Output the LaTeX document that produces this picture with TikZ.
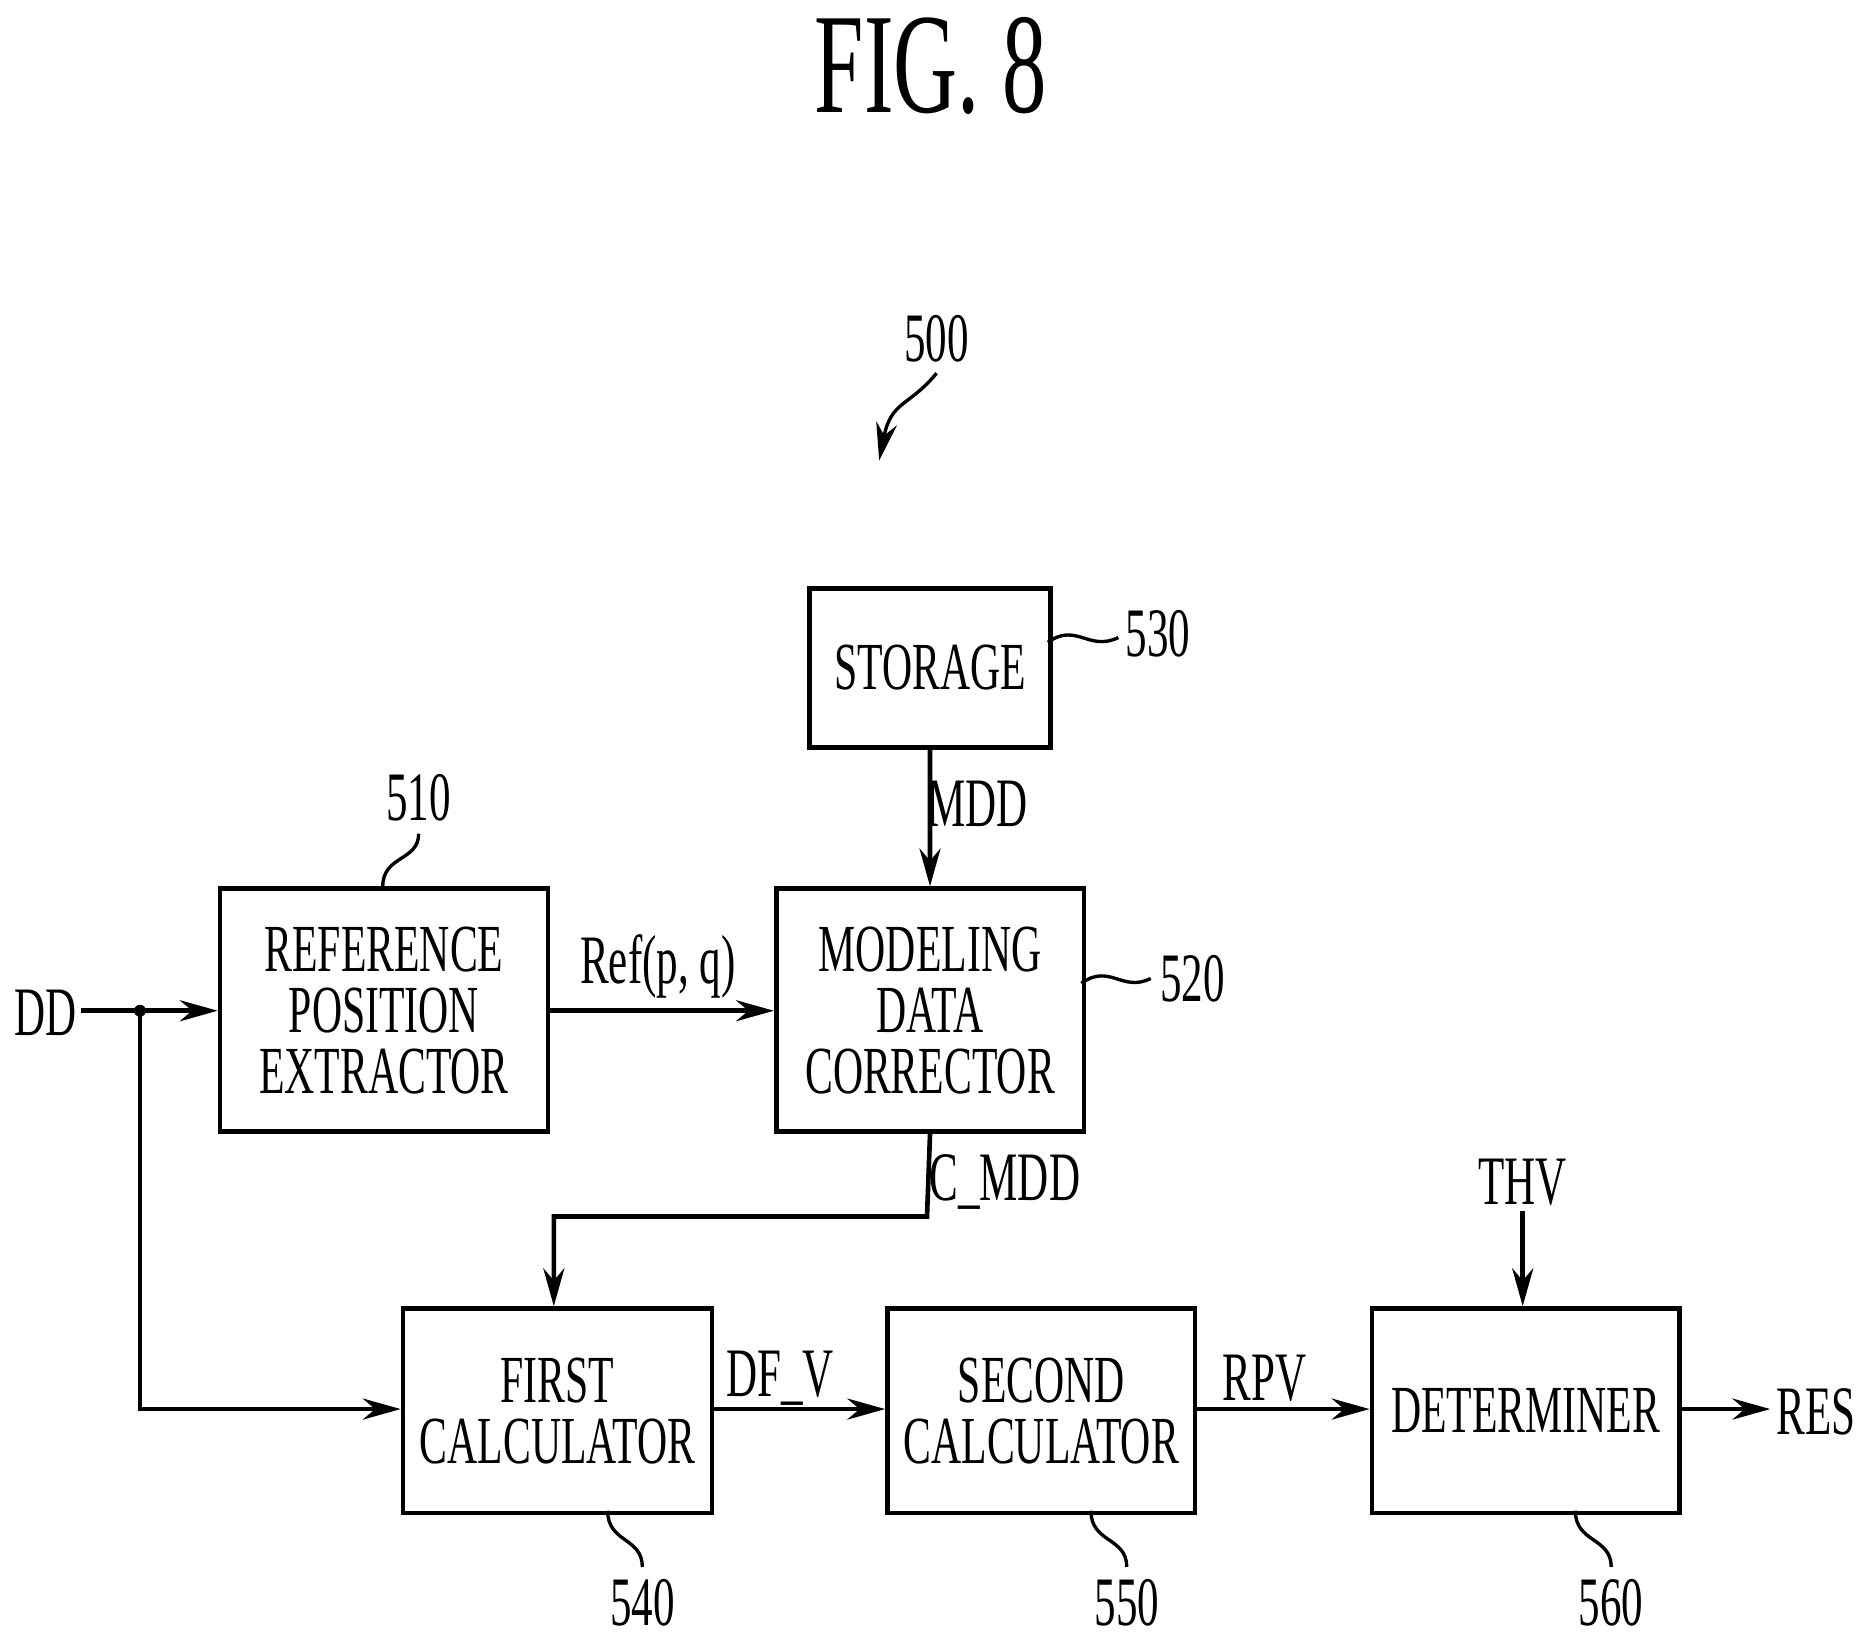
\documentclass[tikz,border=0pt]{standalone}
\usepackage{fontspec}
\setmainfont{Liberation Serif}[FakeStretch=0.62]
\usetikzlibrary{arrows.meta}
\begin{document}
\begin{tikzpicture}[x=0.01cm,y=-0.01cm,
  bt/.style={font=\fontsize{16}{14.5}\selectfont,align=center,inner sep=0pt},
  bx/.style={draw,line width=1.1pt,anchor=north west,inner sep=0pt},
  lbl/.style={font=\fontsize{16.5}{18}\selectfont,inner sep=1pt},
  num/.style={font=\fontsize{16.5}{18}\selectfont,inner sep=1pt},
  arr/.style={line width=1.1pt,-{Stealth[length=9pt,width=5pt]}},
  ln/.style={line width=1.1pt},
  sq/.style={line width=0.8pt}]
\useasboundingbox (0,0) rectangle (1560,1370);
\node[font=\fontsize{34}{38}\selectfont] (title) at (778,55) {FIG. 8};
% boxes
\node[bx,minimum width=2.01cm,minimum height=1.33cm] (st) at (675,490) {};
\node[bt] (stt) at (st.center) {STORAGE};
\node[bx,minimum width=2.74cm,minimum height=2.03cm] (ref) at (182,741) {};
\node[bt] (reft) at (ref.center) {REFERENCE\\POSITION\\EXTRACTOR};
\node[bx,minimum width=2.57cm,minimum height=2.03cm] (mod) at (647,741) {};
\node[bt] (modt) at (mod.center) {MODELING\\DATA\\CORRECTOR};
\node[bx,minimum width=2.58cm,minimum height=1.71cm] (fc) at (335,1092) {};
\node[bt] (fct) at (fc.center) {FIRST\\CALCULATOR};
\node[bx,minimum width=2.57cm,minimum height=1.71cm] (sc) at (740,1092) {};
\node[bt] (sct) at (sc.center) {SECOND\\CALCULATOR};
\node[bx,minimum width=2.57cm,minimum height=1.71cm] (det) at (1145,1092) {};
\node[bt] (dett) at (det.center) {DETERMINER};
% signals
\node[lbl] (dd) at (38,847) {DD};
\coordinate (dot) at (117,845);
\fill (dot) circle (5);
\draw[ln] (68,845) -- (dot);
\draw[arr] (dot) -- (ref.west |- dot);
\coordinate (c1) at (117,1178);
\draw[arr] (dot) -- (c1) -- (fc.west |- c1);
\draw[arr] (ref.east |- 0,845) -- (mod.west |- 0,845);
\node[lbl] (rl) at (550,808) {Ref(p, q)};
\draw[arr] (st.south) -- (mod.north);
\node[lbl] (mdd) at (817,672) {MDD};
\coordinate (k1) at (775,1017);
\coordinate (k2) at (463,1017);
\draw[arr] (mod.south) -- (k1) -- (k2) -- (k2 |- fc.north);
\node[lbl] (cmdd) at (840,988) {C\_MDD};
\draw[arr] (fc.east |- 0,1178) -- (sc.west |- 0,1178);
\node[lbl] (dfv) at (652,1152) {DF\_V};
\draw[arr] (sc.east |- 0,1178) -- (det.west |- 0,1178);
\node[lbl] (rpv) at (1057,1152) {RPV};
\node[lbl] (thv) at (1273,988) {THV};
\draw[arr] (1273,1012) -- (1273,1092);
\node[lbl] (res) at (1518,1180) {RES};
\draw[arr] (det.east |- 0,1178) -- (1480,1178);
% reference numerals
\node[num] (n530) at (968,530) {530};
\draw[sq] (876,537) .. controls (900,520) and (910,545) .. (935,533);
\node[num] (n520) at (997,818) {520};
\draw[sq] (904,822) .. controls (928,805) and (938,830) .. (962,818);
\node[num] (n510) at (350,667) {510};
\draw[sq] (320,741) .. controls (320,715) and (350,720) .. (350,697);
\node[num] (n540) at (537,1340) {540};
\draw[sq] (508,1263) .. controls (508,1290) and (537,1285) .. (537,1310);
\node[num] (n550) at (942,1340) {550};
\draw[sq] (912,1263) .. controls (912,1290) and (942,1285) .. (942,1310);
\node[num] (n560) at (1347,1340) {560};
\draw[sq] (1317,1263) .. controls (1317,1290) and (1347,1285) .. (1347,1310);
\node[num] (n500) at (783,283) {500};
\draw[sq,-{Stealth[length=9pt,width=5pt]}] (783,312) .. controls (760,340) and (745,335) .. (735,385);
\end{tikzpicture}
\end{document}
